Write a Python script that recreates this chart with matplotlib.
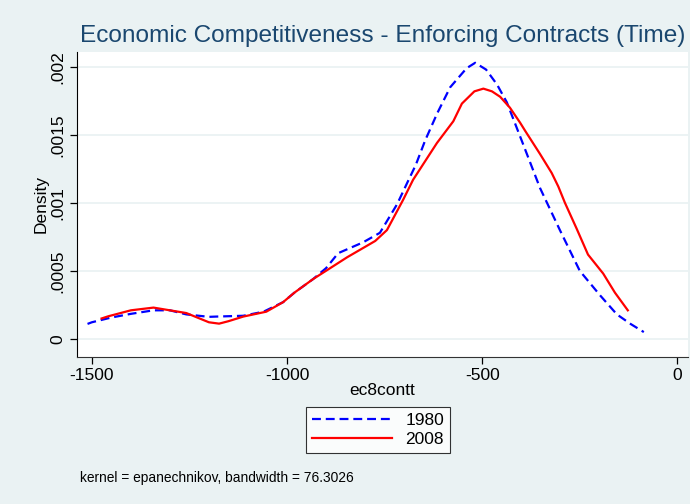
import numpy as np
import matplotlib
matplotlib.use("Agg")
import matplotlib.pyplot as plt

plt.rcParams['font.family'] = ['Liberation Sans', 'DejaVu Sans']

# values (kernel density estimates)
x_1980 = [-1511, -1500, -1450, -1400, -1342, -1300, -1258, -1200, -1181, -1112,
          -1060, -1010, -981, -933, -900, -869, -805, -762, -718, -690, -670,
          -646, -615, -582, -540, -518, -490, -462, -437, -395, -352, -301,
          -250, -198, -155, -120, -86]
d_1980 = [0.00011, 0.000122, 0.000157, 0.000184, 0.00021, 0.00021, 0.00018,
          0.000162, 0.000164, 0.00017, 0.0002, 0.00027, 0.00034, 0.00044,
          0.00052, 0.00063, 0.00071, 0.00078, 0.00099, 0.00116, 0.00128,
          0.00146, 0.00166, 0.00185, 0.00199, 0.00203, 0.00198, 0.00187,
          0.00174, 0.00143, 0.00111, 0.0008, 0.0005, 0.00032, 0.00018,
          0.00011, 0.00005]

x_2008 = [-1475, -1458, -1400, -1342, -1300, -1258, -1200, -1174, -1150, -1112,
          -1053, -1010, -981, -933, -846, -774, -744, -703, -677, -616, -574,
          -552, -520, -497, -475, -454, -429, -403, -390, -352, -322, -305,
          -288, -258, -229, -190, -160, -127]
d_2008 = [0.00015, 0.000166, 0.00021, 0.00023, 0.00021, 0.00019, 0.000122,
          0.000112, 0.00013, 0.000164, 0.0002, 0.00027, 0.00034, 0.00044,
          0.0006, 0.00072, 0.0008, 0.00102, 0.00117, 0.00144, 0.0016, 0.00173,
          0.00182, 0.00184, 0.00182, 0.00178, 0.0017, 0.00159, 0.00153,
          0.00136, 0.00122, 0.00112, 0.001, 0.00081, 0.00062, 0.00048,
          0.00034, 0.00021]

xticks = [-1500, -1000, -500, 0]
yticks = [0, 0.0005, 0.001, 0.0015, 0.002]
ytick_labels = ["0", ".0005", ".001", ".0015", ".002"]

bg = "#EAF2F3"
navy = "#1A476F"

fig = plt.figure(figsize=(6.9, 5.04), dpi=100, facecolor=bg)
ax = fig.add_axes([0.111, 0.292, 0.886, 0.605])
ax.set_facecolor("white")

ax.plot(x_1980, d_1980, color="#0000FF", lw=1.6, dashes=(4, 2.2), label="1980")
ax.plot(x_2008, d_2008, color="#FF0000", lw=1.6, label="2008")

ax.set_xlim(-1539, 27)
ax.set_ylim(-0.000132, 0.00211)
ax.set_xticks(xticks)
ax.set_xticklabels([str(t) for t in xticks], fontsize=12.5)
ax.set_yticks(yticks)
ax.set_yticklabels(ytick_labels, fontsize=12.5, rotation=90, va="center")
ax.grid(axis="y", color=bg, lw=1.3)
ax.set_axisbelow(True)
for s in ["top", "right"]:
    ax.spines[s].set_visible(False)
ax.spines["left"].set_color("black")
ax.spines["bottom"].set_color("#333333")
ax.tick_params(length=5, width=0.9, pad=3)

ax.set_xlabel("ec8contt", fontsize=12.5, labelpad=0)
ax.set_ylabel("Density", fontsize=12.5, labelpad=1)

fig.text(0.554, 0.906, "Economic Competitiveness - Enforcing Contracts (Time)",
         ha="center", va="bottom", fontsize=17.6, color=navy)

leg = fig.legend(loc="center", bbox_to_anchor=(0.548, 0.147), fontsize=12.5,
                 frameon=True, fancybox=False, handlelength=4.6,
                 borderpad=0.35, labelspacing=0.2, handletextpad=0.8)
leg.get_frame().set_edgecolor("black")
leg.get_frame().set_linewidth(0.8)

fig.text(0.116, 0.052, "kernel = epanechnikov, bandwidth = 76.3026",
         fontsize=9.9, va="center", ha="left")

fig.savefig("out.png", dpi=100, facecolor=bg)
